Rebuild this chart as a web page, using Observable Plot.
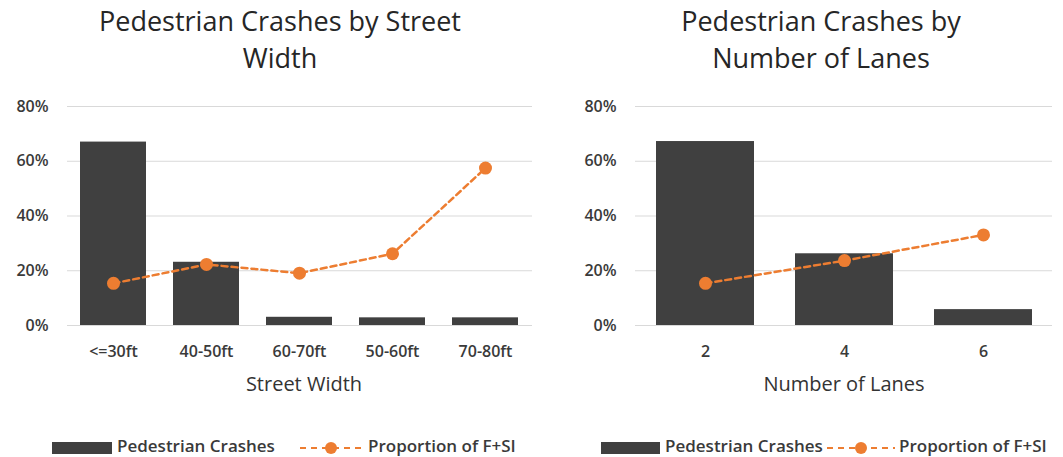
<!DOCTYPE html>
<html>
<head>
<meta charset="utf-8">
<script src="https://cdn.jsdelivr.net/npm/d3@7"></script>
<script src="https://cdn.jsdelivr.net/npm/@observablehq/plot@0.6"></script>
<style>
  html, body { margin: 0; padding: 0; background: #fff; }
  #root { position: relative; width: 1063px; height: 457px; overflow: hidden; font-family: "Open Sans", sans-serif; color: #333; }
  .title { position: absolute; text-align: center; font-size: 27px; line-height: 37px; color: #262626; }
  .axtitle { position: absolute; text-align: center; font-size: 20px; line-height: 24px; color: #333; }
  .plot { position: absolute; }
  .lg { position: absolute; font-size: 17px; font-weight: 600; color: #3a3a3a; white-space: nowrap; line-height: 20px; }
  .sw { position: absolute; background: #404040; }
</style>
</head>
<body>
<div id="root"></div>
<script>
// Data
const widthCats = ["<=30ft", "40-50ft", "60-70ft", "50-60ft", "70-80ft"];
const widthCrashes = [0.670, 0.231, 0.030, 0.028, 0.028];
const widthFSI = [0.154, 0.223, 0.191, 0.262, 0.575];

const lanesCats = ["2", "4", "6"];
const lanesCrashes = [0.672, 0.262, 0.058];
const lanesFSI = [0.154, 0.237, 0.331];

const yTicks = [0, 0.2, 0.4, 0.6, 0.8];
const titleLines = [["Pedestrian Crashes by Street", "Width"], ["Pedestrian Crashes by", "Number of Lanes"]];
const axisTitles = ["Street Width", "Number of Lanes"];
const seriesNames = ["Pedestrian Crashes", "Proportion of F+SI"];

const BAR = "#404040", ORANGE = "#ED7D31", GRID = "#d9d9d9";
const root = document.getElementById("root");

function panel(cats, crashes, fsi, opts) {
  const data = cats.map((c, i) => ({cat: c, crashes: crashes[i], fsi: fsi[i]}));
  const svg = Plot.plot({
    width: opts.width, height: 310,
    marginTop: 16, marginBottom: 75, marginLeft: opts.marginLeft, marginRight: opts.marginRight,
    style: {fontFamily: "'Open Sans', sans-serif", fontSize: "16px", fontWeight: 600, color: "#3a3a3a", background: "transparent"},
    x: {domain: cats, paddingInner: opts.padding, paddingOuter: opts.padding / 2, label: null, axis: null},
    y: {domain: [0, 0.8], label: null, axis: null},
    marks: [
      Plot.ruleY(yTicks, {stroke: GRID, strokeWidth: 1}),
      Plot.barY(data, {x: "cat", y: "crashes", fill: BAR}),
      Plot.line(data, {x: "cat", y: "fsi", stroke: ORANGE, strokeWidth: 2.5, strokeDasharray: "6,4"}),
      Plot.dot(data, {x: "cat", y: "fsi", r: 6.5, fill: ORANGE, stroke: "none"}),
      Plot.text(yTicks, {y: d => d, text: d => Math.round(d * 100) + "%", frameAnchor: "left", textAnchor: "end", dx: -19, fill: "#3a3a3a"}),
      Plot.axisX({tickSize: 0, tickPadding: 20, label: null, fill: "#3a3a3a"})
    ]
  });
  svg.classList.add("plot");
  svg.style.left = opts.left + "px";
  svg.style.top = "90px";
  root.appendChild(svg);
}

panel(widthCats, widthCrashes, widthFSI, {width: 532, left: 0, marginLeft: 67, marginRight: 0, padding: 0.29});
panel(lanesCats, lanesCrashes, lanesFSI, {width: 523, left: 540, marginLeft: 95, marginRight: 11, padding: 0.295});

// Titles
[[280, 0], [821, 1]].forEach(([cx, k]) => {
  const d = document.createElement("div");
  d.className = "title";
  d.style.left = (cx - 250) + "px";
  d.style.width = "500px";
  d.style.top = "2px";
  d.innerHTML = titleLines[k].join("<br>");
  root.appendChild(d);
});

// Axis titles
[[304, 0], [844, 1]].forEach(([cx, k]) => {
  const d = document.createElement("div");
  d.className = "axtitle";
  d.style.left = (cx - 150) + "px";
  d.style.width = "300px";
  d.style.top = "372px";
  d.textContent = axisTitles[k];
  root.appendChild(d);
});

// Legends
const legends = [
  {sw: [52, 112], t1: 117, mk: [300, 362], t2: 368},
  {sw: [601, 660], t1: 665, mk: [827, 895], t2: 899}
];
legends.forEach(L => {
  const s = document.createElement("div");
  s.className = "sw";
  s.style.left = L.sw[0] + "px"; s.style.width = (L.sw[1] - L.sw[0]) + "px";
  s.style.top = "442px"; s.style.height = "12px";
  root.appendChild(s);
  const t1 = document.createElement("div");
  t1.className = "lg"; t1.style.left = L.t1 + "px"; t1.style.top = "436px";
  t1.textContent = seriesNames[0];
  root.appendChild(t1);
  const w = L.mk[1] - L.mk[0];
  const m = document.createElementNS("http://www.w3.org/2000/svg", "svg");
  m.setAttribute("width", w); m.setAttribute("height", 16);
  m.style.position = "absolute"; m.style.left = L.mk[0] + "px"; m.style.top = "440px";
  m.innerHTML = `<line x1="0" x2="${w}" y1="8" y2="8" stroke="${ORANGE}" stroke-width="2" stroke-dasharray="6,5"/><circle cx="${w / 2}" cy="8" r="6" fill="${ORANGE}"/>`;
  root.appendChild(m);
  const t2 = document.createElement("div");
  t2.className = "lg"; t2.style.left = L.t2 + "px"; t2.style.top = "436px";
  t2.textContent = seriesNames[1];
  root.appendChild(t2);
});
</script>
</body>
</html>
